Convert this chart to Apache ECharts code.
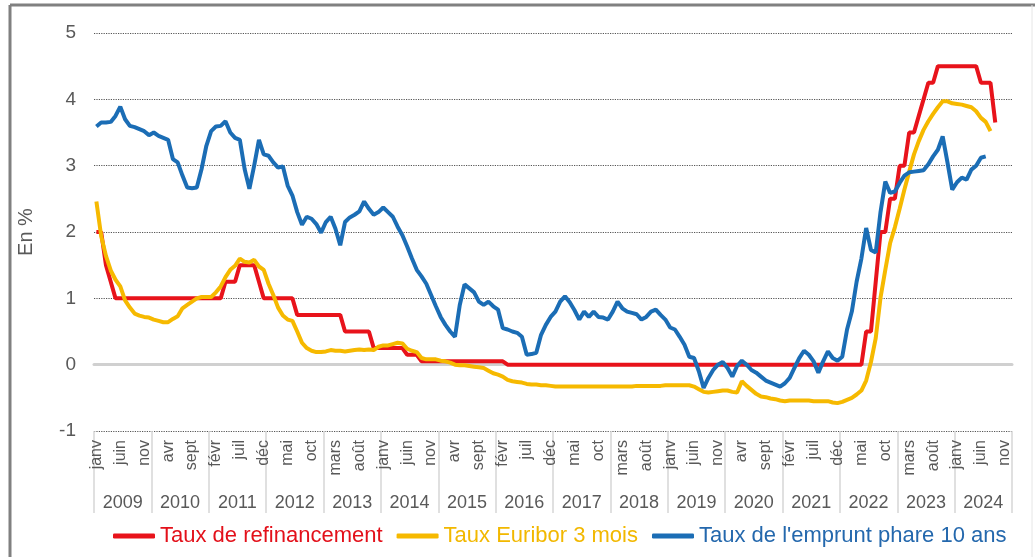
<!DOCTYPE html>
<html>
<head>
<meta charset="utf-8">
<script src="https://cdn.jsdelivr.net/npm/echarts@6/dist/echarts.min.js"></script>
<style>
  html, body { margin: 0; padding: 0; background: #fff; }
  #chart { width: 1035px; height: 557px; }
</style>
</head>
<body>
<div id="chart"></div>
<script>
// années et mois (axe à deux niveaux)
var years = ['2009', '2010', '2011', '2012', '2013', '2014', '2015', '2016',
  '2017', '2018', '2019', '2020', '2021', '2022', '2023', '2024']
var monthNames = ['janv', 'févr', 'mars', 'avr', 'mai', 'juin', 'juil', 'août', 'sept', 'oct', 'nov', 'déc']

// Taux de refinancement (janv 2009 - sept 2024)
var refiRate = [
  2, 2, 1.5, 1.25, 1, 1, 1, 1, 1, 1, 1, 1,
  1, 1, 1, 1, 1, 1, 1, 1, 1, 1, 1, 1,
  1, 1, 1, 1.25, 1.25, 1.25, 1.5, 1.5, 1.5, 1.5, 1.25, 1,
  1, 1, 1, 1, 1, 1, 0.75, 0.75, 0.75, 0.75, 0.75, 0.75,
  0.75, 0.75, 0.75, 0.75, 0.5, 0.5, 0.5, 0.5, 0.5, 0.5, 0.25, 0.25,
  0.25, 0.25, 0.25, 0.25, 0.25, 0.15, 0.15, 0.15, 0.05, 0.05, 0.05, 0.05,
  0.05, 0.05, 0.05, 0.05, 0.05, 0.05, 0.05, 0.05, 0.05, 0.05, 0.05, 0.05,
  0.05, 0.05, 0, 0, 0, 0, 0, 0, 0, 0, 0, 0,
  0, 0, 0, 0, 0, 0, 0, 0, 0, 0, 0, 0,
  0, 0, 0, 0, 0, 0, 0, 0, 0, 0, 0, 0,
  0, 0, 0, 0, 0, 0, 0, 0, 0, 0, 0, 0,
  0, 0, 0, 0, 0, 0, 0, 0, 0, 0, 0, 0,
  0, 0, 0, 0, 0, 0, 0, 0, 0, 0, 0, 0,
  0, 0, 0, 0, 0, 0.5, 0.5, 1.25, 2, 2, 2.5, 2.5,
  3, 3, 3.5, 3.5, 3.75, 4, 4.25, 4.25, 4.5, 4.5, 4.5, 4.5,
  4.5, 4.5, 4.5, 4.5, 4.5, 4.25, 4.25, 4.25, 3.65
]

// Taux Euribor 3 mois (janv 2009 - août 2024)
var euribor3m = [
  2.46, 1.94, 1.64, 1.42, 1.28, 1.18, 0.97, 0.86, 0.77, 0.74, 0.72, 0.71,
  0.68, 0.66, 0.64, 0.64, 0.69, 0.73, 0.85, 0.90, 0.95, 1.0, 1.02, 1.02,
  1.02, 1.09, 1.18, 1.32, 1.43, 1.49, 1.60, 1.55, 1.54, 1.58, 1.48, 1.43,
  1.22, 1.05, 0.86, 0.74, 0.68, 0.66, 0.50, 0.33, 0.25, 0.21, 0.19, 0.19,
  0.20, 0.22, 0.21, 0.21, 0.20, 0.21, 0.22, 0.23, 0.22, 0.23, 0.22, 0.27,
  0.29, 0.29, 0.31, 0.33, 0.32, 0.24, 0.21, 0.19, 0.10, 0.08, 0.08, 0.08,
  0.06, 0.05, 0.03, 0.0, -0.01, -0.01, -0.02, -0.03, -0.04, -0.05, -0.09, -0.13,
  -0.15, -0.18, -0.23, -0.25, -0.26, -0.27, -0.29, -0.30, -0.30, -0.31, -0.31, -0.32,
  -0.33, -0.33, -0.33, -0.33, -0.33, -0.33, -0.33, -0.33, -0.33, -0.33, -0.33, -0.33,
  -0.33, -0.33, -0.33, -0.33, -0.33, -0.32, -0.32, -0.32, -0.32, -0.32, -0.32, -0.31,
  -0.31, -0.31, -0.31, -0.31, -0.31, -0.33, -0.37, -0.41, -0.42, -0.41, -0.40, -0.39,
  -0.39, -0.41, -0.42, -0.25, -0.32, -0.38, -0.44, -0.48, -0.49, -0.51, -0.52, -0.54,
  -0.55, -0.54, -0.54, -0.54, -0.54, -0.54, -0.55, -0.55, -0.55, -0.55, -0.57, -0.58,
  -0.56, -0.53, -0.50, -0.45, -0.39, -0.24, 0.04, 0.40, 1.01, 1.43, 1.83, 2.07,
  2.35, 2.64, 2.91, 3.17, 3.37, 3.54, 3.67, 3.78, 3.88, 3.97, 3.97, 3.94,
  3.93, 3.92, 3.90, 3.88, 3.82, 3.72, 3.66, 3.52
]

// Taux de l'emprunt phare 10 ans (janv 2009 - juil 2024)
var oat10y = [
  3.59, 3.65, 3.65, 3.66, 3.75, 3.89, 3.7, 3.6, 3.58, 3.55, 3.52, 3.46,
  3.5, 3.45, 3.42, 3.39, 3.1, 3.05, 2.85, 2.67, 2.66, 2.67, 2.95, 3.3,
  3.52, 3.59, 3.6, 3.67, 3.5, 3.42, 3.39, 2.95, 2.65, 3.0, 3.39, 3.17,
  3.15, 3.05, 2.97, 2.99, 2.7, 2.55, 2.3, 2.11, 2.23, 2.2, 2.12, 1.99,
  2.15, 2.23, 2.05, 1.8, 2.15, 2.22, 2.26, 2.31, 2.46, 2.35, 2.26, 2.3,
  2.37, 2.3, 2.23, 2.08, 1.95, 1.78, 1.6, 1.43, 1.33, 1.22, 1.05, 0.88,
  0.72, 0.6, 0.5, 0.42, 0.9, 1.21, 1.15, 1.09, 0.95, 0.9, 0.95, 0.88,
  0.83, 0.55, 0.53, 0.5, 0.48, 0.42, 0.15, 0.16, 0.18, 0.45, 0.6, 0.72,
  0.8, 0.95, 1.03, 0.94, 0.82, 0.68, 0.8, 0.72, 0.8, 0.72, 0.71, 0.68,
  0.8, 0.95, 0.85, 0.8, 0.78, 0.76, 0.68, 0.72, 0.8, 0.83, 0.75, 0.68,
  0.56, 0.53, 0.42, 0.3, 0.12, 0.1, -0.1, -0.35, -0.2, -0.08, 0.0, 0.04,
  -0.05, -0.18, -0.02, 0.06, 0.0, -0.08, -0.12, -0.18, -0.24, -0.27, -0.3, -0.33,
  -0.28, -0.2, -0.05, 0.1, 0.21, 0.15, 0.05, -0.12, 0.05, 0.2, 0.1, 0.06,
  0.12, 0.53, 0.8, 1.25, 1.6, 2.06, 1.73, 1.69, 2.3, 2.76, 2.59, 2.61,
  2.74, 2.85, 2.9, 2.91, 2.92, 2.93, 3.02, 3.14, 3.24, 3.44, 3.05, 2.64,
  2.75, 2.82, 2.79, 2.94, 3.0, 3.12, 3.14
]

var yTicks = [-1, 0, 1, 2, 3, 4, 5]

var months = []
years.forEach(function (y) {
  monthNames.forEach(function (m) { months.push(m + ' ' + y) })
})

var grey = '#595959'
var chart = echarts.init(document.getElementById('chart'))

chart.setOption({
  animation: false,
  textStyle: { fontFamily: 'Liberation Sans, Arial, sans-serif' },
  grid: { left: 94, right: 23, top: 33, bottom: 126, containLabel: false },
  graphic: [
    { type: 'line', shape: { x1: 10, y1: 5, x2: 1035, y2: 5 }, style: { stroke: '#808080', lineWidth: 3 } },
    { type: 'line', shape: { x1: 10, y1: 5, x2: 10, y2: 557 }, style: { stroke: '#808080', lineWidth: 3 } },
    { type: 'line', shape: { x1: 1032, y1: 5, x2: 1032, y2: 557 }, style: { stroke: '#e6e6e6', lineWidth: 1 } }
  ],
  legend: {
    left: 108,
    top: 520,
    icon: 'roundRect',
    itemWidth: 42,
    itemHeight: 5,
    itemGap: 14,
    textStyle: { fontSize: 22 },
    data: [
      { name: 'Taux de refinancement', textStyle: { color: '#e3101a' } },
      { name: 'Taux Euribor 3 mois', textStyle: { color: '#f2b800' } },
      { name: 'Taux de l\'emprunt phare 10 ans', textStyle: { color: '#2468ad' } }
    ]
  },
  xAxis: [
    {
      type: 'category',
      data: months,
      position: 'bottom',
      boundaryGap: true,
      axisLine: { show: true, lineStyle: { color: '#d0d0d0', width: 3 } },
      axisTick: { show: false },
      axisLabel: {
        rotate: 90,
        margin: 9,
        fontSize: 16,
        color: grey,
        interval: function (index) { return index % 5 === 0 },
        formatter: function (v) { return v.split(' ')[0] }
      },
      splitLine: { show: false }
    },
    {
      type: 'category',
      data: years,
      position: 'bottom',
      boundaryGap: true,
      axisLine: { show: false },
      axisTick: { show: true, interval: 0, length: 82, lineStyle: { color: '#d6d6d6', width: 1.5 } },
      axisLabel: { margin: 63, fontSize: 18, color: grey, interval: 0 },
      splitLine: { show: false }
    }
  ],
  yAxis: {
    type: 'value',
    min: yTicks[0],
    max: yTicks[yTicks.length - 1],
    interval: 1,
    name: 'En %',
    nameLocation: 'middle',
    nameGap: 58,
    nameTextStyle: { fontSize: 20, color: grey },
    axisLine: { show: false },
    axisTick: { show: false },
    axisLabel: { fontSize: 19, color: grey, margin: 18 },
    splitLine: { lineStyle: { type: 'dotted', color: '#555', width: 1.2 } }
  },
  series: [
    {
      name: 'Taux de refinancement',
      type: 'line',
      data: refiRate,
      symbol: 'none',
      color: '#e8131b',
      lineStyle: { width: 4, color: '#e8131b' }
    },
    {
      name: 'Taux Euribor 3 mois',
      type: 'line',
      data: euribor3m,
      symbol: 'none',
      color: '#f6b900',
      lineStyle: { width: 4, color: '#f6b900' }
    },
    {
      name: 'Taux de l\'emprunt phare 10 ans',
      type: 'line',
      data: oat10y,
      symbol: 'none',
      color: '#1b6db5',
      lineStyle: { width: 4, color: '#1b6db5' }
    }
  ]
})
</script>
</body>
</html>
